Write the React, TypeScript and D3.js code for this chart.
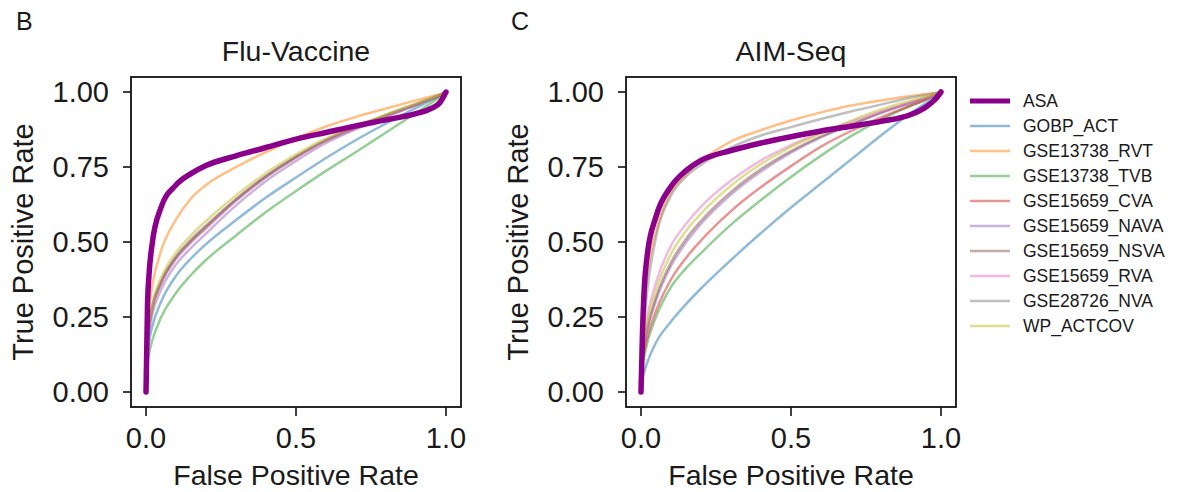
import React from "react";
import * as d3 from "d3";

const fprGrid = [0, 0.005, 0.01, 0.02, 0.05, 0.1, 0.15, 0.2, 0.3, 0.4, 0.5, 0.6, 0.7, 0.8, 0.9, 0.95, 0.98, 1.0];

const seriesNames = [
  "ASA",
  "GOBP_ACT",
  "GSE13738_RVT",
  "GSE13738_TVB",
  "GSE15659_CVA",
  "GSE15659_NAVA",
  "GSE15659_NSVA",
  "GSE15659_RVA",
  "GSE28726_NVA",
  "WP_ACTCOV",
];

const seriesColors = [
  "#8b008b",
  "#1f77b4",
  "#ff7f0e",
  "#2ca02c",
  "#d62728",
  "#9467bd",
  "#8c564b",
  "#e377c2",
  "#7f7f7f",
  "#bcbd22",
];

// Flu-Vaccine panel: TPR at each fprGrid value
const fluASA = [0, 0.29, 0.39, 0.49, 0.615, 0.69, 0.728, 0.755, 0.787, 0.815, 0.843, 0.865, 0.887, 0.907, 0.928, 0.945, 0.965, 1.0];
const fluGOBP = [0, 0.13, 0.167, 0.215, 0.30, 0.387, 0.445, 0.493, 0.573, 0.648, 0.715, 0.78, 0.84, 0.895, 0.947, 0.972, 0.988, 1];
const fluRVT = [0, 0.22, 0.28, 0.35, 0.47, 0.575, 0.645, 0.69, 0.75, 0.80, 0.845, 0.885, 0.917, 0.945, 0.972, 0.985, 0.993, 1];
const fluTVB = [0, 0.095, 0.127, 0.169, 0.248, 0.33, 0.39, 0.44, 0.522, 0.60, 0.67, 0.737, 0.80, 0.865, 0.93, 0.963, 0.983, 1];
const fluCVA = [0, 0.18, 0.215, 0.275, 0.362, 0.446, 0.501, 0.548, 0.64, 0.718, 0.783, 0.838, 0.88, 0.92, 0.957, 0.977, 0.99, 1];
const fluNAVA = [0, 0.165, 0.198, 0.255, 0.34, 0.425, 0.48, 0.528, 0.622, 0.703, 0.77, 0.83, 0.876, 0.917, 0.956, 0.977, 0.99, 1];
const fluNSVA = [0, 0.187, 0.22, 0.28, 0.368, 0.452, 0.508, 0.555, 0.643, 0.72, 0.785, 0.84, 0.883, 0.922, 0.958, 0.977, 0.99, 1];
const fluRVA = [0, 0.18, 0.215, 0.272, 0.36, 0.443, 0.498, 0.545, 0.637, 0.715, 0.78, 0.837, 0.88, 0.92, 0.958, 0.978, 0.99, 1];
const fluNVA = [0, 0.185, 0.22, 0.28, 0.365, 0.448, 0.503, 0.55, 0.64, 0.717, 0.783, 0.84, 0.884, 0.924, 0.96, 0.979, 0.99, 1];
const fluACTCOV = [0, 0.19, 0.228, 0.29, 0.38, 0.465, 0.522, 0.57, 0.655, 0.73, 0.792, 0.845, 0.886, 0.925, 0.962, 0.98, 0.991, 1];

// AIM-Seq panel
const aimASA = [0, 0.20, 0.33, 0.45, 0.585, 0.685, 0.738, 0.772, 0.805, 0.83, 0.851, 0.87, 0.886, 0.902, 0.925, 0.95, 0.975, 1];
const aimGOBP = [0, 0.044, 0.065, 0.096, 0.165, 0.235, 0.293, 0.345, 0.44, 0.53, 0.615, 0.695, 0.775, 0.855, 0.93, 0.963, 0.984, 1];
const aimRVT = [0, 0.18, 0.27, 0.38, 0.535, 0.665, 0.725, 0.77, 0.835, 0.873, 0.905, 0.932, 0.955, 0.972, 0.987, 0.993, 0.997, 1];
const aimTVB = [0, 0.085, 0.115, 0.16, 0.25, 0.35, 0.412, 0.463, 0.558, 0.64, 0.717, 0.788, 0.853, 0.908, 0.955, 0.975, 0.99, 1];
const aimCVA = [0, 0.095, 0.13, 0.178, 0.27, 0.375, 0.447, 0.505, 0.603, 0.683, 0.753, 0.818, 0.87, 0.915, 0.955, 0.975, 0.99, 1];
const aimNAVA = [0, 0.11, 0.148, 0.2, 0.305, 0.42, 0.498, 0.56, 0.658, 0.735, 0.798, 0.849, 0.89, 0.93, 0.963, 0.98, 0.99, 1];
const aimNSVA = [0, 0.115, 0.155, 0.21, 0.315, 0.432, 0.51, 0.57, 0.667, 0.743, 0.803, 0.852, 0.892, 0.932, 0.965, 0.98, 0.99, 1];
const aimRVA = [0, 0.143, 0.188, 0.248, 0.365, 0.488, 0.56, 0.618, 0.705, 0.772, 0.823, 0.865, 0.9, 0.935, 0.965, 0.98, 0.99, 1];
const aimNVA = [0, 0.14, 0.22, 0.33, 0.515, 0.655, 0.718, 0.757, 0.815, 0.855, 0.883, 0.91, 0.935, 0.958, 0.982, 0.99, 0.996, 1];
const aimACTCOV = [0, 0.13, 0.172, 0.228, 0.34, 0.46, 0.537, 0.595, 0.688, 0.76, 0.817, 0.862, 0.904, 0.942, 0.972, 0.985, 0.993, 1];

const xTicks = [0, 0.5, 1.0];
const yTicks = [0, 0.25, 0.5, 0.75, 1.0];

const panels = [
  {
    letter: "B",
    title: "Flu-Vaccine",
    offset: 0,
    series: [fluASA, fluGOBP, fluRVT, fluTVB, fluCVA, fluNAVA, fluNSVA, fluRVA, fluNVA, fluACTCOV],
  },
  {
    letter: "C",
    title: "AIM-Seq",
    offset: 495,
    series: [aimASA, aimGOBP, aimRVT, aimTVB, aimCVA, aimNAVA, aimNSVA, aimRVA, aimNVA, aimACTCOV],
  },
];

const FONT = "'Liberation Sans', Arial, Helvetica, sans-serif";
const TXT = "#1a1a1a";

function Panel({ p }: { p: (typeof panels)[number] }) {
  const x = d3.scaleLinear().domain([-0.05, 1.05]).range([131 + p.offset, 461 + p.offset]);
  const y = d3.scaleLinear().domain([-0.05, 1.05]).range([407, 77]);
  const line = d3
    .line<[number, number]>()
    .x((d) => x(d[0]))
    .y((d) => y(d[1]))
    .curve(d3.curveMonotoneX);
  const order = [1, 2, 3, 4, 5, 6, 7, 8, 9, 0];
  const [x0, x1] = x.range();
  const [y0, y1] = y.range();
  const cx = (x(0) + x(1)) / 2;
  const cy = (y(0) + y(1)) / 2;
  return (
    <g>
      <text x={16 + p.offset} y={30} fontSize={25} fontFamily={FONT} fill={TXT}>
        {p.letter}
      </text>
      <text x={cx} y={61} fontSize={28.5} fontFamily={FONT} fill={TXT} textAnchor="middle">
        {p.title}
      </text>
      {order.map((i) => {
        const pts = fprGrid.map((f, k) => [f, p.series[i][k]] as [number, number]);
        const isASA = i === 0;
        return (
          <path
            key={i}
            d={line(pts) || ""}
            fill="none"
            stroke={seriesColors[i]}
            strokeWidth={isASA ? 5.5 : 2.5}
            strokeOpacity={isASA ? 1 : 0.5}
            strokeLinejoin="round"
            strokeLinecap="round"
          />
        );
      })}
      <rect x={x0} y={y1} width={x1 - x0} height={y0 - y1} fill="none" stroke="#111" strokeWidth={1.8} />
      {xTicks.map((t) => (
        <g key={"x" + t}>
          <line x1={x(t)} x2={x(t)} y1={y0} y2={y0 + 9} stroke="#111" strokeWidth={1.6} />
          <text x={x(t)} y={448} fontSize={29} fontFamily={FONT} fill={TXT} textAnchor="middle">
            {t.toFixed(1)}
          </text>
        </g>
      ))}
      {yTicks.map((t) => (
        <g key={"y" + t}>
          <line x1={x0 - 8} x2={x0} y1={y(t)} y2={y(t)} stroke="#111" strokeWidth={1.6} />
          <text
            x={x0 - 22}
            y={y(t)}
            dy="0.35em"
            fontSize={29}
            fontFamily={FONT}
            fill={TXT}
            textAnchor="end"
          >
            {t.toFixed(2)}
          </text>
        </g>
      ))}
      <text x={cx} y={485} fontSize={28.5} fontFamily={FONT} fill={TXT} textAnchor="middle">
        False Positive Rate
      </text>
      <text
        transform={`translate(${33 + p.offset},${cy}) rotate(-90)`}
        fontSize={29}
        fontFamily={FONT}
        fill={TXT}
        textAnchor="middle"
      >
        True Positive Rate
      </text>
    </g>
  );
}

function Legend() {
  const lx0 = 970;
  const lx1 = 1010;
  const ty = d3.scaleLinear().domain([0, 1]).range([101, 126]);
  return (
    <g>
      {seriesNames.map((n, i) => (
        <g key={n}>
          <line
            x1={lx0}
            x2={lx1}
            y1={ty(i)}
            y2={ty(i)}
            stroke={seriesColors[i]}
            strokeWidth={i === 0 ? 5 : 2.5}
            strokeOpacity={i === 0 ? 1 : 0.5}
          />
          <text x={1023} y={ty(i)} dy="0.36em" fontSize={17.5} fontFamily={FONT} fill={TXT}>
            {n}
          </text>
        </g>
      ))}
    </g>
  );
}

export default function App() {
  return (
    <svg
      width={1177}
      height={492}
      style={{ position: "absolute", left: 0, top: 0, background: "#fff" }}
    >
      <rect width={1177} height={492} fill="#fff" />
      {panels.map((p) => (
        <Panel key={p.letter} p={p} />
      ))}
      <Legend />
    </svg>
  );
}
